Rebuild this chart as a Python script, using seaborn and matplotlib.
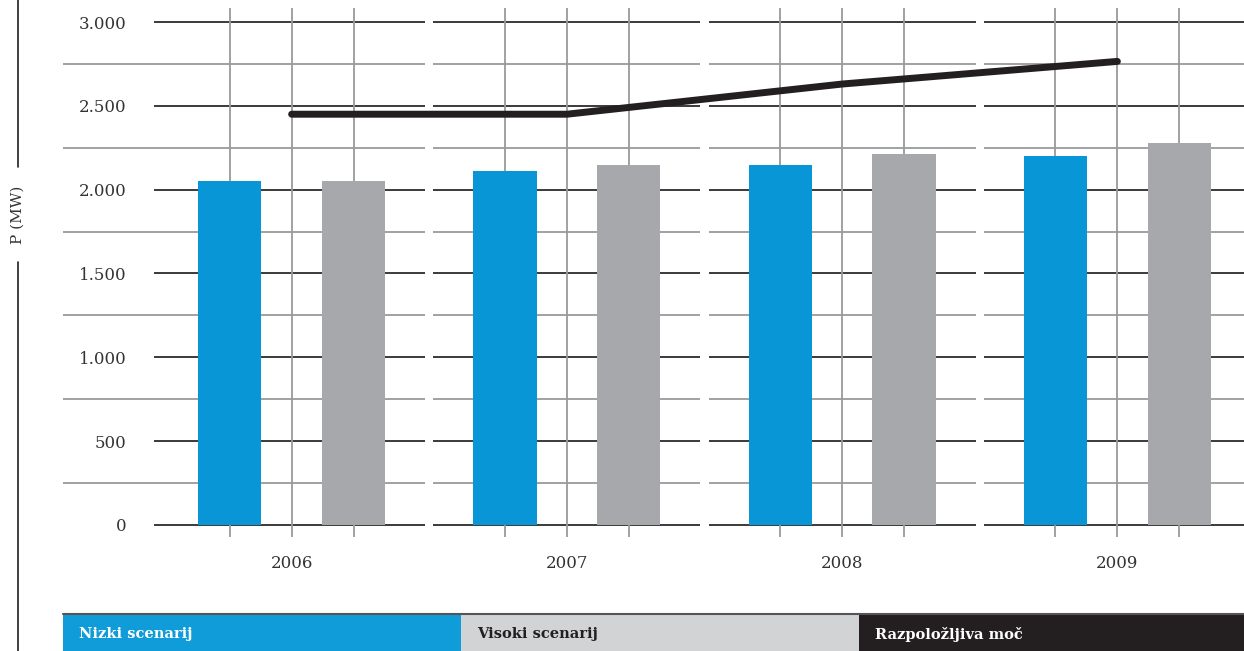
import pandas as pd
import seaborn as sns
import matplotlib.pyplot as plt
from matplotlib.patches import Rectangle
from matplotlib.lines import Line2D

# podatki
years = ['2006', '2007', '2008', '2009']
nizki = [2050, 2110, 2150, 2200]
visoki = [2050, 2150, 2210, 2280]
razpolozljiva = [2450, 2450, 2630, 2765]
y_ticks = [0, 500, 1000, 1500, 2000, 2500, 3000]
y_labels = ['0', '500', '1.000', '1.500', '2.000', '2.500', '3.000']
legend_labels = ['Nizki scenarij', 'Visoki scenarij', 'Razpoložljiva moč']

BLUE = '#0996D6'
GRAY = '#A7A8AB'
DARK = '#231F20'

df = pd.DataFrame({
    'Leto': years * 2,
    'P': nizki + visoki,
    'Scenarij': [legend_labels[0]] * 4 + [legend_labels[1]] * 4,
})

sns.set_theme(style='white')
plt.rcParams['font.family'] = ['DejaVu Serif']

W, H = 1244, 651
fig = plt.figure(figsize=(W / 100, H / 100), dpi=100)
ax = fig.add_axes([154 / W, 1 - 537 / H, 1 - 154 / W, (537 - 8) / H])

# mreža - vodoravne črte s presledki med leti
x_left_minor = -0.832
x_right = 3.46
half_gap = 0.015
for yv in range(0, 3001, 250):
    major = yv % 500 == 0
    for i in range(len(years)):
        x0 = i - 0.5 + half_gap if i > 0 else (-0.5 if major else x_left_minor)
        x1 = i + 0.5 - half_gap if i < len(years) - 1 else x_right
        ax.hlines(yv, x0, x1, colors='#2b2b2b' if major else '#9a9a9a',
                  linewidth=1.3, zorder=1, clip_on=False)

# navpične črte
for i in range(len(years)):
    for off in (-0.225, 0, 0.225):
        ax.axvline(i + off, color='#9a9a9a', linewidth=1.3, zorder=1)

sns.barplot(data=df, x='Leto', y='P', hue='Scenarij', palette=[BLUE, GRAY],
            width=0.9, gap=0.49, saturation=1, legend=False, ax=ax)
for p in ax.patches:
    p.set_zorder(3)
    p.set_linewidth(0)

n_before = len(ax.lines)
sns.pointplot(x=years, y=razpolozljiva, color=DARK, markers='', errorbar=None,
              linewidth=5, ax=ax)
for ln in ax.lines[n_before:]:
    ln.set_solid_capstyle('round')
    ln.set_zorder(4)

ax.set_xlim(-0.5, x_right)
ax.set_ylim(-71.6, 3083.5)
ax.set_yticks(y_ticks)
ax.set_yticklabels(y_labels, fontsize=12, color='#333333')
ax.tick_params(axis='y', length=0, pad=20)
ax.tick_params(axis='x', length=0, pad=13, labelsize=12, labelcolor='#333333')
ax.set_xlabel('')
ax.set_ylabel('')
for s in ax.spines.values():
    s.set_visible(False)

# oznaka osi y
fig.text(18 / W, 1 - 215 / H, 'P (MW)', rotation=90, ha='center', va='center',
         fontsize=11, color='#333333')
fig.add_artist(Line2D([18 / W, 18 / W], [1, 1 - 167 / H], color=DARK, linewidth=1.2))
fig.add_artist(Line2D([18 / W, 18 / W], [1 - 262 / H, 0], color=DARK, linewidth=1.2))

# legenda spodaj
boxes = [(63, 461, '#109CD8', 'white'), (461, 859, '#D1D3D4', DARK), (859, W, DARK, 'white')]
for (x0, x1, fc, tc), lab in zip(boxes, legend_labels):
    fig.add_artist(Rectangle((x0 / W, 0), (x1 - x0) / W, 37 / H, transform=fig.transFigure,
                             facecolor=fc, edgecolor='none'))
    fig.text((x0 + 16) / W, 1 - 634 / H, lab, ha='left', va='center', fontsize=10.5,
             fontweight='bold', color=tc)
fig.add_artist(Line2D([63 / W, 1], [37 / H, 37 / H], color='#555555', linewidth=1.5))

fig.savefig('out.png', dpi=100)
